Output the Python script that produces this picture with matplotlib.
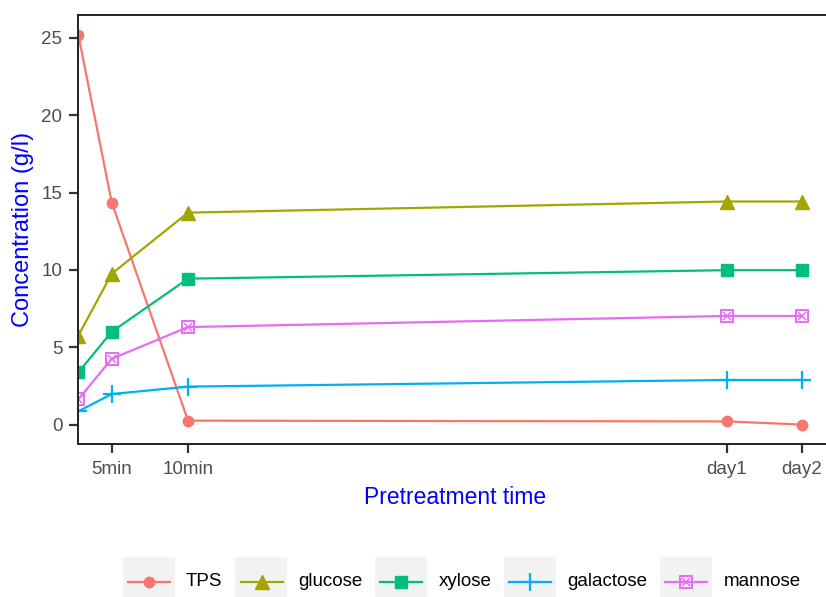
import matplotlib
matplotlib.use("Agg")
import matplotlib.pyplot as plt
from matplotlib.patches import Rectangle
from matplotlib.lines import Line2D

plt.rcParams["font.family"] = ["Liberation Sans", "DejaVu Sans"]

# pretreatment time points (axis units) and their labels
time_pos = [0, 1, 3.28, 19.38, 21.62]
tick_pos = [1, 3.28, 19.38, 21.62]
tick_labels = ["5min", "10min", "day1", "day2"]

# concentrations in g/l
tps = [25.2, 14.35, 0.25, 0.2, 0.0]
glucose = [5.75, 9.75, 13.7, 14.42, 14.42]
xylose = [3.37, 6.0, 9.43, 9.98, 9.98]
galactose = [0.85, 1.97, 2.45, 2.88, 2.88]
mannose = [1.62, 4.25, 6.3, 7.02, 7.02]

names = ["TPS", "glucose", "xylose", "galactose", "mannose"]
colors = ["#F8766D", "#A3A500", "#00BF7D", "#00B0F6", "#E76BF3"]
series = [tps, glucose, xylose, galactose, mannose]

marker_kw = [
    dict(marker="o", markersize=7.5),
    dict(marker="^", markersize=10),
    dict(marker="s", markersize=8.2),
    dict(marker="+", markersize=13, markeredgewidth=1.6),
    dict(marker="s", markersize=9, markerfacecolor="none", markeredgewidth=1.4),
]

fig = plt.figure(figsize=(8.26, 5.97), dpi=100)
fig.patch.set_facecolor("white")
ax = fig.add_axes([78.3 / 826, 1 - 444 / 597, (831 - 78.3) / 826, (444 - 15.3) / 597])

for vals, col, mk in zip(series, colors, marker_kw):
    ax.plot(time_pos, vals, color=col, lw=1.6, **mk)

# inner cross of the mannose symbol
ax.plot(time_pos, mannose, linestyle="none", marker="x", markersize=6,
        markeredgewidth=1.1, color=colors[4])

ax.set_xlim(0, 22.5)
ax.set_ylim(-1.26, 26.46)
ax.set_xticks(tick_pos)
ax.set_xticklabels(tick_labels)
ax.set_yticks([0, 5, 10, 15, 20, 25])

for side in ["left", "top", "bottom", "right"]:
    ax.spines[side].set_color("#222222")
    ax.spines[side].set_linewidth(1.4)
ax.tick_params(axis="both", length=6.5, width=1.6, color="#333333",
               labelcolor="#4D4D4D", labelsize=13.5, pad=5)
ax.tick_params(axis="x", pad=5.5)

ax.set_xlabel("Pretreatment time", color="blue", fontsize=16.5, labelpad=6)
ax.set_ylabel("Concentration (g/l)", color="blue", fontsize=17, labelpad=5)

# legend along the bottom, drawn as grey key boxes
key_left = [122.7, 235.5, 375, 504, 660]
text_left = [186, 298, 439, 567, 724]
W, H = 826, 597
for i in range(5):
    x0 = key_left[i]
    fig.add_artist(Rectangle((x0 / W, 1 - 597 / H), 52 / W, 40 / H,
                             transform=fig.transFigure, facecolor="#F2F2F2",
                             edgecolor="none"))
    yc = 1 - 582 / H
    fig.add_artist(Line2D([(x0 + 5) / W, (x0 + 47) / W], [yc, yc],
                          transform=fig.transFigure, color=colors[i], lw=1.6))
    mk = dict(marker_kw[i])
    fig.add_artist(Line2D([(x0 + 26) / W], [yc], transform=fig.transFigure,
                          color=colors[i], **mk))
    if i == 4:
        fig.add_artist(Line2D([(x0 + 26) / W], [yc], transform=fig.transFigure,
                              color=colors[i], marker="x", markersize=6,
                              markeredgewidth=1.1))
    fig.text(text_left[i] / W, yc, names[i], fontsize=13.5, color="black",
             ha="left", va="center")

fig.savefig("out.png", dpi=100)
